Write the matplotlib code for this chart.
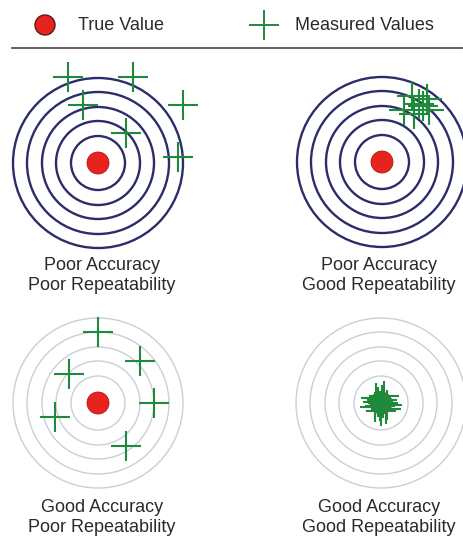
import matplotlib
matplotlib.use('Agg')
from matplotlib import pyplot as plt
from matplotlib.patches import Circle

plt.rcParams['font.family'] = ['Liberation Sans', 'DejaVu Sans']

# target centres (px) and ring radii
centres = [(98, 163), (382, 162), (98, 403), (381, 403)]
ring_radii = [27, 42, 56, 71, 85]
ring_colors = ['#2b2d6b', '#2b2d6b', '#cdcdd9', '#cdcdd9']

# measured values as offsets from the true value
tl_dx = [-30, 35, -15, 85, 28, 80]
tl_dy = [-86, -86, -58, -58, -30, -6]
tr_dx = [22, 30, 37, 45, 47, 32, 41]
tr_dy = [-52, -66, -58, -63, -52, -48, -56]
bl_dx = [0, 42, -29, 56, -43, 28]
bl_dy = [-71, -42, -29, 0, 14, 43]
br_dx = [-5, 3, 6, -6, 0, 2, -3, 5, -1, 1]
br_dy = [-5, -7, 2, 4, 8, 0, -1, 6, 3, -3]
measured = [(tl_dx, tl_dy), (tr_dx, tr_dy), (bl_dx, bl_dy), (br_dx, br_dy)]

accuracy = ['Poor Accuracy', 'Poor Accuracy', 'Good Accuracy', 'Good Accuracy']
repeat = ['Poor Repeatability', 'Good Repeatability', 'Poor Repeatability', 'Good Repeatability']
label_x = [102, 379, 102, 379]
label_y = [265, 265, 507, 507]

red = '#e8231e'
green = '#1e8a3c'
txt = '#2a2a2a'

fig = plt.figure(figsize=(4.63, 5.39), dpi=100)
ax = fig.add_axes([0, 0, 1, 1])
ax.set_xlim(0, 463)
ax.set_ylim(539, 0)
ax.axis('off')

# legend header
ax.add_patch(Circle((45, 25), 10, facecolor=red, edgecolor='#5a1a10', lw=1))
ax.text(78, 25, 'True Value', fontsize=13, va='center', ha='left', color=txt)
ax.plot([264], [25], marker='+', markersize=22, mew=1.4, color=green)
ax.text(295, 25, 'Measured Values', fontsize=13, va='center', ha='left', color=txt)
ax.plot([12, 463], [48, 48], color='#555555', lw=1.3)

for i, (cx, cy) in enumerate(centres):
    lw = 1.7 if i < 2 else 1.0
    for r in ring_radii:
        ax.add_patch(Circle((cx, cy), r, fill=False, edgecolor=ring_colors[i], lw=lw))
    ax.add_patch(Circle((cx, cy), 11, facecolor=red, edgecolor='#b01810', lw=0.6, zorder=3))
    dx, dy = measured[i]
    xs = [cx + v for v in dx]
    ys = [cy + v for v in dy]
    ax.plot(xs, ys, ls='none', marker='+', markersize=22, mew=1.5, color=green, zorder=4)
    ax.text(label_x[i], label_y[i], accuracy[i], fontsize=13, ha='center', va='center', color=txt)
    ax.text(label_x[i], label_y[i] + 21, repeat[i], fontsize=13, ha='center', va='center', color=txt)

fig.savefig('out.png', dpi=100)
